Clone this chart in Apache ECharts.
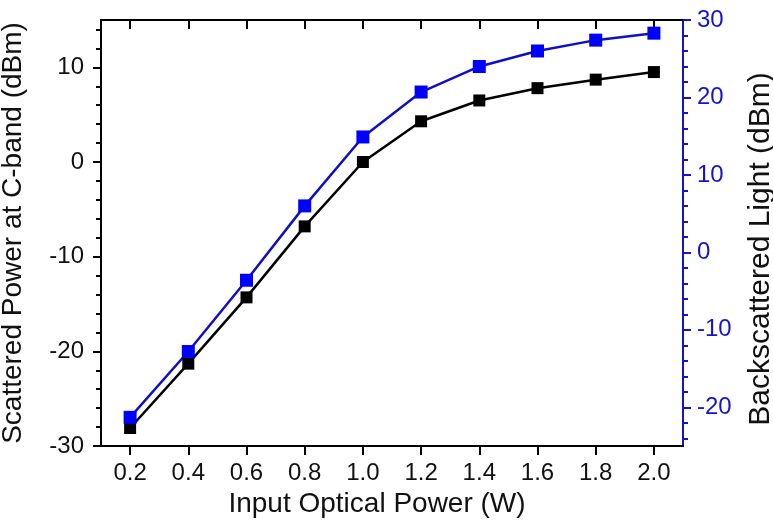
<!DOCTYPE html>
<html>
<head>
<meta charset="utf-8">
<script src="https://cdn.jsdelivr.net/npm/echarts@6/dist/echarts.min.js"></script>
<style>
html,body{margin:0;padding:0;background:#fff;}
#chart{width:773px;height:522px;}
</style>
</head>
<body>
<div id="chart"></div>
<script>
var xCategories = ['0.2','0.4','0.6','0.8','1.0','1.2','1.4','1.6','1.8','2.0'];
var scatteredPower = [-28.1, -21.3, -14.3, -6.8, 0.0, 4.3, 6.5, 7.8, 8.7, 9.5];
var backscatteredLight = [-21.3, -12.8, -3.6, 6.0, 14.9, 20.7, 24.0, 26.0, 27.4, 28.3];
var leftMajorTicks = [-30, -20, -10, 0, 10];
var leftMinorTicks = [-28, -26, -24, -22, -18, -16, -14, -12, -8, -6, -4, -2, 2, 4, 6, 8, 12, 14];
var rightMajorTicks = [-20, -10, 0, 10, 20, 30];
var rightMinorTicks = [-24, -22, -18, -16, -14, -12, -8, -6, -4, -2, 2, 4, 6, 8, 12, 14, 16, 18, 22, 24, 26, 28];

var FONT = 'Liberation Sans, Arial, sans-serif';
var BLUE_AX = '#1414c8';
var chart = echarts.init(document.getElementById('chart'), null, {renderer: 'canvas'});
chart.setOption({
  animation: false,
  backgroundColor: '#ffffff',
  grid: {left: 101, right: 90, top: 20, bottom: 76, containLabel: false, outerBoundsMode: 'none'},
  xAxis: [{
    type: 'category', data: xCategories, boundaryGap: true, position: 'bottom',
    name: 'Input Optical Power (W)', nameLocation: 'middle', nameGap: 38,
    nameTextStyle: {fontFamily: FONT, fontSize: 28, color: '#111', padding: [0, 30, 0, 0]},
    axisLine: {show: true, onZero: false, lineStyle: {color: '#000', width: 2}},
    axisTick: {show: true, alignWithLabel: true, interval: 0, length: 9, lineStyle: {color: '#000', width: 2}},
    axisLabel: {interval: 0, margin: 15, fontFamily: FONT, fontSize: 24, color: '#111'},
    splitLine: {show: false}
  }, {
    type: 'category', data: xCategories, boundaryGap: true, position: 'top',
    axisLine: {show: true, onZero: false, lineStyle: {color: '#000', width: 2}},
    axisTick: {show: true, inside: true, alignWithLabel: true, interval: 0, length: 9, lineStyle: {color: '#000', width: 2}},
    axisLabel: {show: false},
    splitLine: {show: false}
  }],
  yAxis: [{
    type: 'value', position: 'left', min: -30, max: 15,
    name: 'Scattered Power at C-band (dBm)', nameLocation: 'middle', nameGap: 74,
    nameTextStyle: {fontFamily: FONT, fontSize: 28, color: '#111'},
    axisLine: {show: true, onZero: false, lineStyle: {color: '#000', width: 2}},
    axisTick: {show: true, customValues: leftMajorTicks, length: 8, lineStyle: {color: '#000', width: 2}},
    axisLabel: {customValues: leftMajorTicks, margin: 17, fontFamily: FONT, fontSize: 24, color: '#111'},
    splitLine: {show: false}
  }, {
    type: 'value', position: 'right', min: -25, max: 30,
    name: 'Backscattered Light (dBm)', nameLocation: 'middle', nameGap: 63,
    nameTextStyle: {fontFamily: FONT, fontSize: 30, color: '#111', padding: [0, 32, 0, 0]},
    axisLine: {show: true, onZero: false, lineStyle: {color: BLUE_AX, width: 2}},
    axisTick: {show: true, customValues: rightMajorTicks, length: 8, lineStyle: {color: BLUE_AX, width: 2}},
    axisLabel: {customValues: rightMajorTicks, margin: 14, fontFamily: FONT, fontSize: 24, color: BLUE_AX},
    splitLine: {show: false}
  }, {
    type: 'value', position: 'left', min: -30, max: 15,
    axisLine: {show: false, onZero: false},
    axisTick: {show: true, customValues: leftMinorTicks, length: 5, lineStyle: {color: '#000', width: 2}},
    axisLabel: {show: false},
    splitLine: {show: false}
  }, {
    type: 'value', position: 'right', min: -25, max: 30,
    axisLine: {show: false, onZero: false},
    axisTick: {show: true, customValues: rightMinorTicks, length: 5, lineStyle: {color: BLUE_AX, width: 2}},
    axisLabel: {show: false},
    splitLine: {show: false}
  }],
  series: [{
    name: 'Scattered', type: 'line', xAxisIndex: 0, yAxisIndex: 0, data: scatteredPower,
    symbol: 'rect', symbolSize: 12,
    lineStyle: {color: '#000', width: 2.5},
    itemStyle: {color: '#000'}
  }, {
    name: 'Backscattered', type: 'line', xAxisIndex: 0, yAxisIndex: 1, data: backscatteredLight,
    symbol: 'rect', symbolSize: 13,
    lineStyle: {color: '#1010c0', width: 2.5},
    itemStyle: {color: '#0000ff'}
  }]
});
</script>
</body>
</html>
